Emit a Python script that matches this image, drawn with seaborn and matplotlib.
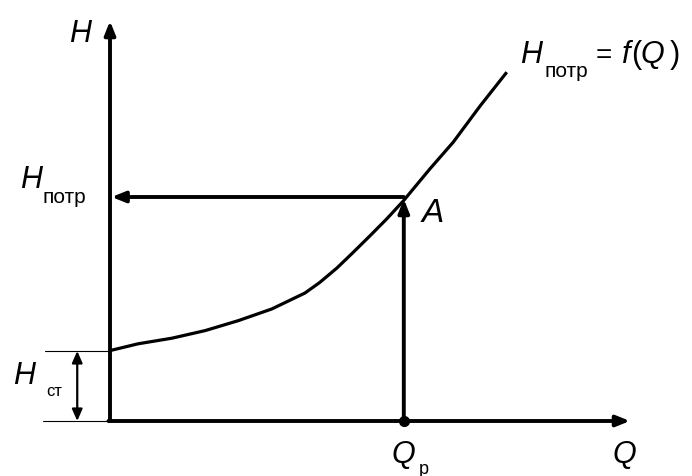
import matplotlib
matplotlib.use("Agg")
import matplotlib.pyplot as plt
import seaborn as sns

# Characteristic of the pipeline: H_потр = f(Q)
q_curve = [0.0, 0.54, 1.19, 1.83, 2.47, 3.11, 3.75, 4.03, 4.36, 4.68, 5.0,
           5.32, 5.64, 6.15, 6.6, 7.12, 7.63]
h_curve = [1.76, 1.93, 2.07, 2.26, 2.51, 2.80, 3.2, 3.46, 3.82, 4.22, 4.63,
           5.05, 5.5, 6.3, 6.97, 7.88, 8.72]

# Operating point A and static head
q_p = 5.65
h_p = 5.6
h_st = 1.75

# axis extents (arrow tips)
q_max = 10.0
h_max = 10.0

# dimension line for H_ст
dim_left = -1.25
dim_x = -0.63

sns.set_style("white")
plt.rcParams["font.family"] = ["Liberation Sans", "DejaVu Sans"]
plt.rcParams["text.color"] = "black"

fig = plt.figure(figsize=(6.92, 4.77), dpi=100)
ax = fig.add_axes([0, 0, 1, 1])
ax.set_xlim(-110 / 52, 582 / 52)
ax.set_ylim(-55 / 40, 422 / 40)
ax.set_axis_off()

# curve
sns.lineplot(x=q_curve, y=h_curve, color="black", lw=2.3, ax=ax,
             solid_capstyle="butt", sort=False)

arrow = dict(arrowstyle="-|>,head_length=0.5,head_width=0.2", color="black",
             lw=2.8, shrinkA=0, shrinkB=0, mutation_scale=16)

# axes with arrows
ax.annotate("", xy=(0, h_max), xytext=(0, 0), arrowprops=arrow)
ax.annotate("", xy=(q_max, 0), xytext=(-0.03, 0), arrowprops=arrow)

# operating point lines
ax.annotate("", xy=(0.03, h_p), xytext=(q_p, h_p), arrowprops=arrow)
ax.annotate("", xy=(q_p, h_p - 0.05), xytext=(q_p, 0), arrowprops=arrow)
ax.plot([q_p], [0], "o", color="black", markersize=7)

# H_ст dimension
ax.plot([dim_left, 0], [h_st, h_st], color="black", lw=0.8)
ax.plot([dim_left - 0.04, 0], [0, 0], color="black", lw=0.8)
ax.annotate("", xy=(dim_x, h_st), xytext=(dim_x, 0),
            arrowprops=dict(arrowstyle="<|-|>,head_length=0.5,head_width=0.22",
                            color="black", lw=1.6, shrinkA=0, shrinkB=0,
                            mutation_scale=14))

big = dict(fontsize=22, style="italic", textcoords="offset pixels",
           va="baseline", color="black")
sub = dict(fontsize=15, textcoords="offset pixels", va="baseline", color="black")
rom = dict(fontsize=22, textcoords="offset pixels", va="baseline", color="black")

# labels
ax.annotate("H", xy=(0, h_max), xytext=(-30, -20), ha="center", **big)
ax.annotate("H", xy=(0, h_p), xytext=(-90, 10), ha="left", **big)
ax.annotate("потр", xy=(0, h_p), xytext=(-67, -5), ha="left", **sub)
ax.annotate("H", xy=(0, h_st), xytext=(-97, -32), ha="left", **big)
ax.annotate("ст", xy=(0, h_st), xytext=(-64, -44), ha="left",
            fontsize=12, textcoords="offset pixels", va="baseline", color="black")
ax.annotate("A", xy=(q_p, h_p), xytext=(18, -24), ha="left",
            fontsize=24, style="italic", textcoords="offset pixels",
            va="baseline", color="black")
ax.annotate("Q", xy=(q_p, 0), xytext=(-12, -41), ha="left", **big)
ax.annotate("р", xy=(q_p, 0), xytext=(15, -52), ha="left",
            fontsize=13, textcoords="offset pixels", va="baseline", color="black")
ax.annotate("Q", xy=(q_max, 0), xytext=(-18, -41), ha="left", **big)

end = (q_curve[-1], h_curve[-1])
ax.annotate("H", xy=end, xytext=(13, 10), ha="left", **big)
ax.annotate("потр", xy=end, xytext=(38, -4), ha="left", **sub)
ax.annotate("=", xy=end, xytext=(89, 10), ha="left", fontsize=20,
            textcoords="offset pixels", va="baseline", color="black")
ax.annotate("f", xy=end, xytext=(115, 10), ha="left", **big)
ax.annotate("(", xy=end, xytext=(124, 10), ha="left", **rom)
ax.annotate("Q", xy=end, xytext=(134, 10), ha="left", **big)
ax.annotate(")", xy=end, xytext=(163, 10), ha="left", **rom)

fig.savefig("out.png", dpi=100)
